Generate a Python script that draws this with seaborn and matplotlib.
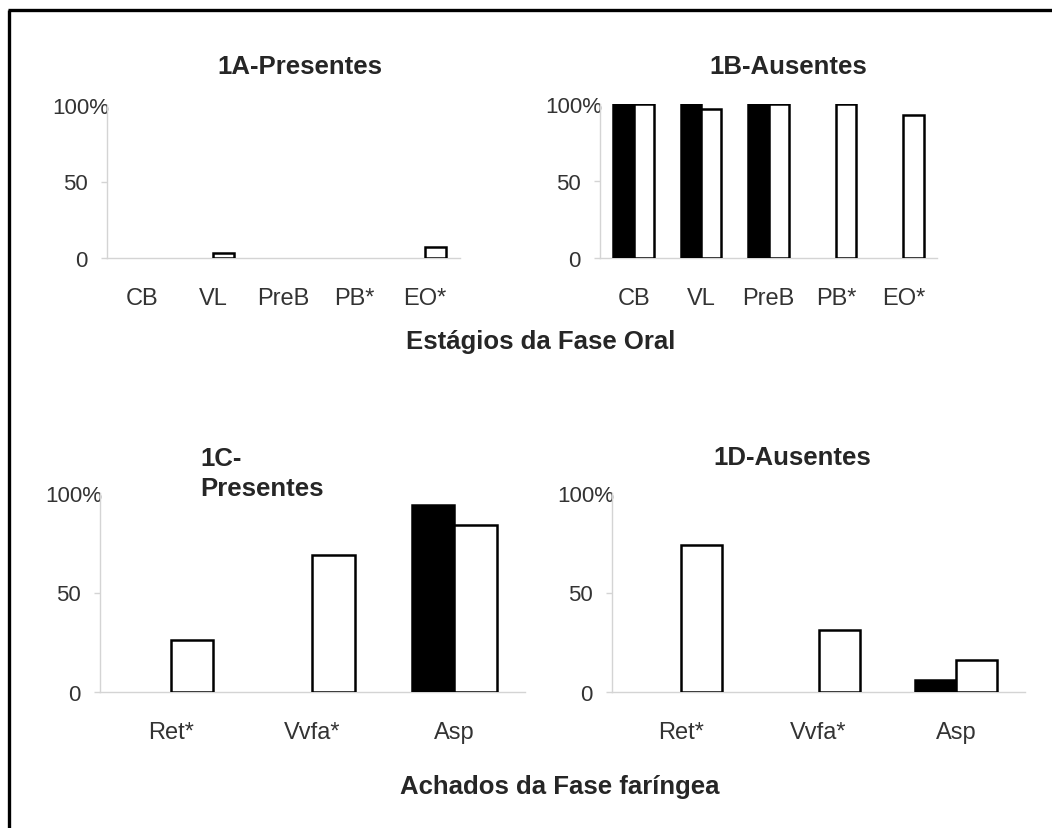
import numpy as np
import pandas as pd
import matplotlib
matplotlib.use("Agg")
import matplotlib.pyplot as plt
import matplotlib.transforms as mtransforms
from matplotlib.lines import Line2D
import seaborn as sns

# ---------------- data ----------------
oral_cats = ["CB", "VL", "PreB", "PB*", "EO*"]
oral_pres_black = [0, 0, 0, 0, 0]
oral_pres_white = [0, 3, 0, 0, 7]
oral_aus_black = [100, 100, 100, 0, 0]
oral_aus_white = [100, 97, 100, 100, 93]

far_cats = ["Ret*", "Vvfa*", "Asp"]
far_pres_black = [0, 0, 94]
far_pres_white = [26, 69, 84]
far_aus_black = [0, 0, 6]
far_aus_white = [74, 31, 16]

groups = ["Grupo 1", "Grupo 2"]
ytick_vals = [0, 50, 100]
ytick_labels = ["0", "50", "100%"]

titles = ["1A-Presentes", "1B-Ausentes", "1C-\nPresentes", "1D-Ausentes"]
xlabel_oral = "Estágios da Fase Oral"
xlabel_far = "Achados da Fase faríngea"

# ---------------- style ----------------
sns.set_style("white")
plt.rcParams["font.family"] = ["Liberation Sans", "DejaVu Sans"]

W, H = 1052, 829
fig = plt.figure(figsize=(W / 100, H / 100), dpi=100)


def px_rect(left, right, top, bottom):
    return [left / W, 1 - bottom / H, (right - left) / W, (bottom - top) / H]


def make_df(cats, black, white):
    rows = []
    for c, b, w in zip(cats, black, white):
        rows.append({"cat": c, "grp": groups[0], "val": b})
        rows.append({"cat": c, "grp": groups[1], "val": w})
    return pd.DataFrame(rows)


GRID = "#d4d4d4"
TICKC = "#333333"


def draw(ax, cats, black, white):
    df = make_df(cats, black, white)
    sns.barplot(data=df, x="cat", y="val", hue="grp", order=cats,
                hue_order=groups, palette={groups[0]: "black", groups[1]: "white"},
                edgecolor="black", linewidth=1.8, width=0.6, legend=False,
                errorbar=None, ax=ax)
    for p in ax.patches:
        if abs(p.get_height()) < 1e-9:
            p.set_visible(False)
    n = len(cats)
    ax.set_xlim(-0.5, n - 0.5)
    ax.set_ylim(0, 100)
    ax.set_yticks(ytick_vals)
    ax.set_yticklabels(ytick_labels)
    ax.set_xlabel("")
    ax.set_ylabel("")
    ax.set_xticks(np.arange(-0.5, n, 1.0), minor=True)
    ax.tick_params(axis="x", which="major", length=0, pad=21, labelsize=17, labelcolor=TICKC)
    ax.tick_params(axis="x", which="minor", length=5, color=GRID, width=1, direction="out")
    ax.tick_params(axis="y", which="major", length=4, color=GRID, width=1, pad=10,
                   labelsize=16, labelcolor=TICKC, left=True)
    for s in ["top", "right"]:
        ax.spines[s].set_visible(False)
    for s in ["left", "bottom"]:
        ax.spines[s].set_color(GRID)
        ax.spines[s].set_linewidth(1.0)
    ax.spines["bottom"].set_zorder(0)
    # shift the "100%" label so that the numbers stay right-aligned as in the original
    lab = ax.get_yticklabels()[2]
    off = mtransforms.ScaledTranslation(0.22, 0, fig.dpi_scale_trans)
    lab.set_transform(lab.get_transform() + off)
    ax.patch.set_alpha(0)


axA = fig.add_axes(px_rect(107, 460, 106, 259))
axB = fig.add_axes(px_rect(600, 937, 105, 259))
axC = fig.add_axes(px_rect(100, 525, 494, 693))
axD = fig.add_axes(px_rect(612, 1025, 494, 693))

draw(axA, oral_cats, oral_pres_black, oral_pres_white)
draw(axB, oral_cats, oral_aus_black, oral_aus_white)
draw(axC, far_cats, far_pres_black, far_pres_white)
draw(axD, far_cats, far_aus_black, far_aus_white)


def ftext(x, y, s, **kw):
    fig.text(x / W, 1 - y / H, s, **kw)


TS = 18.5
ftext(300, 67, titles[0], ha="center", va="center", fontsize=TS, fontweight="bold")
ftext(788, 67, titles[1], ha="center", va="center", fontsize=TS, fontweight="bold")
ftext(200, 474, titles[2], ha="left", va="center", fontsize=TS, fontweight="bold",
      linespacing=1.3)
ftext(792, 458, titles[3], ha="center", va="center", fontsize=TS, fontweight="bold")
ftext(541, 342, xlabel_oral, ha="center", va="center", fontsize=TS, fontweight="bold")
ftext(560, 787, xlabel_far, ha="center", va="center", fontsize=TS, fontweight="bold")

# outer frame (left and top edges visible)
fig.add_artist(Line2D([9 / W, 9 / W], [0, 1 - 11 / H], color="black", lw=2.4,
                      transform=fig.transFigure, solid_capstyle="butt"))
fig.add_artist(Line2D([8 / W, 1], [1 - 11 / H, 1 - 11 / H], color="black", lw=2.4,
                      transform=fig.transFigure, solid_capstyle="butt"))

fig.savefig("out.png", dpi=100, facecolor="white")
